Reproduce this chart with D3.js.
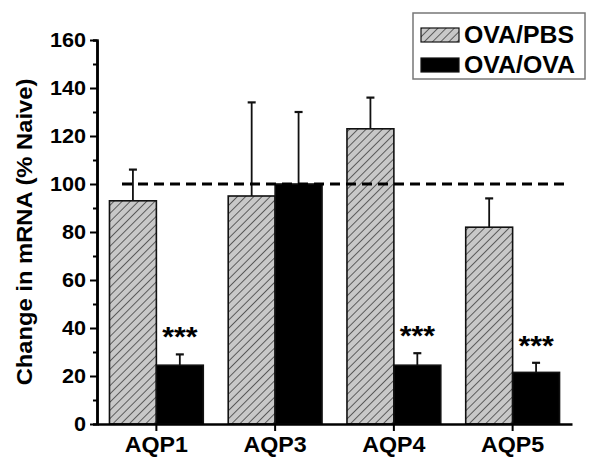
<!DOCTYPE html>
<html>
<head>
<meta charset="utf-8">
<script src="https://cdn.jsdelivr.net/npm/d3@7"></script>
<style>
  body { margin: 0; background: #fff; }
  text { font-family: "Liberation Sans", Arial, sans-serif; font-weight: bold; fill: #000; }
</style>
</head>
<body>
<svg id="chart" width="600" height="468"></svg>
<script>
// datos
var genes = ["AQP1", "AQP3", "AQP4", "AQP5"];
var series = ["OVA/PBS", "OVA/OVA"];
var pbsValues = [93, 95, 123, 82];
var pbsErrors = [13, 39, 13, 12];
var ovaValues = [24.5, 100, 24.5, 21.5];
var ovaErrors = [4.5, 30, 5, 4];
var significance = ["***", "", "***", "***"];
var yTicks = [0, 20, 40, 60, 80, 100, 120, 140, 160];
var minorTicks = [10, 30, 50, 70, 90, 110, 130, 150];
var refLine = 100;

var svg = d3.select("#chart");

var mLeft = 97, mRight = 572, mTop = 40, mBottom = 424;

// patron rayado para OVA/PBS
var defs = svg.append("defs");
var pat = defs.append("pattern")
    .attr("id", "hatch")
    .attr("patternUnits", "userSpaceOnUse")
    .attr("width", 5.8)
    .attr("height", 5.8)
    .attr("patternTransform", "rotate(45)");
pat.append("rect").attr("width", 5.8).attr("height", 5.8).attr("fill", "#c8c8c8");
pat.append("line")
    .attr("x1", 0).attr("y1", 0).attr("x2", 0).attr("y2", 5.8)
    .attr("stroke", "#505050").attr("stroke-width", 1.8);

var x = d3.scaleBand()
    .domain(genes)
    .range([mLeft, mRight])
    .paddingInner(0.21)
    .paddingOuter(0.105);

var xSub = d3.scaleBand()
    .domain(series)
    .range([0, x.bandwidth()]);

var y = d3.scaleLinear()
    .domain([0, 160])
    .range([mBottom, mTop]);

var fills = { "OVA/PBS": "url(#hatch)", "OVA/OVA": "#000" };

var rows = genes.map(function (g, i) {
    return [
        { gene: g, s: "OVA/PBS", v: pbsValues[i], e: pbsErrors[i] },
        { gene: g, s: "OVA/OVA", v: ovaValues[i], e: ovaErrors[i] }
    ];
});

var groups = svg.append("g").selectAll("g")
    .data(rows)
    .enter().append("g")
    .attr("transform", function (d, i) { return "translate(" + x(genes[i]) + ",0)"; });

// barras
groups.selectAll("rect")
    .data(function (d) { return d; })
    .enter().append("rect")
    .attr("x", function (d) { return xSub(d.s); })
    .attr("y", function (d) { return y(d.v); })
    .attr("width", xSub.bandwidth())
    .attr("height", function (d) { return y(0) - y(d.v); })
    .style("fill", function (d) { return fills[d.s]; })
    .style("stroke", "#111")
    .style("stroke-width", 1.6);

// barras de error (solo hacia arriba)
var err = groups.selectAll("g.err")
    .data(function (d) { return d; })
    .enter().append("g").attr("class", "err");
err.append("line")
    .attr("x1", function (d) { return xSub(d.s) + xSub.bandwidth() / 2; })
    .attr("x2", function (d) { return xSub(d.s) + xSub.bandwidth() / 2; })
    .attr("y1", function (d) { return y(d.v); })
    .attr("y2", function (d) { return y(d.v + d.e); })
    .style("stroke", "#111").style("stroke-width", 1.8);
err.append("line")
    .attr("x1", function (d) { return xSub(d.s) + xSub.bandwidth() / 2 - 4; })
    .attr("x2", function (d) { return xSub(d.s) + xSub.bandwidth() / 2 + 4; })
    .attr("y1", function (d) { return y(d.v + d.e); })
    .attr("y2", function (d) { return y(d.v + d.e); })
    .style("stroke", "#111").style("stroke-width", 2.2);

// asteriscos
groups.append("text")
    .attr("x", xSub("OVA/OVA") + xSub.bandwidth() / 2)
    .attr("y", function (d, i) { return y(ovaValues[i] + ovaErrors[i]) - 8; })
    .attr("text-anchor", "middle")
    .style("font-size", "28px")
    .text(function (d, i) { return significance[i]; });

// linea de referencia
svg.append("line")
    .attr("x1", 122).attr("x2", 570)
    .attr("y1", y(refLine)).attr("y2", y(refLine))
    .style("stroke", "#000")
    .style("stroke-width", 3)
    .style("stroke-dasharray", "10,6");

// ejes
var yAxis = svg.append("g")
    .attr("transform", "translate(" + mLeft + ",0)")
    .call(d3.axisLeft(y).tickValues(yTicks).tickSize(7).tickSizeOuter(0).tickPadding(4));
yAxis.selectAll("text").style("font-size", "20px");

svg.append("g")
    .attr("transform", "translate(" + mLeft + ",0)")
    .call(d3.axisLeft(y).tickValues(minorTicks).tickSize(4).tickFormat(""));

var xAxis = svg.append("g")
    .attr("transform", "translate(0," + mBottom + ")")
    .call(d3.axisBottom(x).tickSize(7).tickSizeOuter(0).tickPadding(6));
xAxis.selectAll("text").style("font-size", "21.5px");

svg.selectAll(".domain").style("stroke", "#000").style("stroke-width", 2.5);
svg.selectAll(".tick line").style("stroke", "#000").style("stroke-width", 2);
svg.selectAll(".tick text").style("fill", "#000").style("font-family", "'Liberation Sans', Arial, sans-serif");

// titulo del eje y
svg.append("text")
    .attr("transform", "translate(32," + (mTop + mBottom) / 2 + ") rotate(-90)")
    .attr("text-anchor", "middle")
    .style("font-size", "22px")
    .text("Change in mRNA (% Naive)");

// leyenda
var legend = svg.append("g").attr("transform", "translate(413,13)");
legend.append("rect")
    .attr("width", 172).attr("height", 66)
    .style("fill", "#fff").style("stroke", "#777").style("stroke-width", 1.5);
var item = legend.selectAll("g.item")
    .data(series)
    .enter().append("g").attr("class", "item")
    .attr("transform", function (d, i) { return "translate(8," + (15 + i * 30) + ")"; });
item.append("rect")
    .attr("width", 38).attr("height", 14)
    .style("fill", function (d) { return fills[d]; })
    .style("stroke", "#111").style("stroke-width", 1.2);
item.append("text")
    .attr("x", 43).attr("y", 14.5)
    .style("font-size", "23px")
    .text(function (d) { return d; });

// estirar un poco el texto como en la figura original
svg.selectAll("text").each(function () {
    var t = d3.select(this);
    if (!t.text()) return;
    var w = this.getComputedTextLength();
    t.attr("textLength", w * 1.08).attr("lengthAdjust", "spacingAndGlyphs");
});
</script>
</body>
</html>
